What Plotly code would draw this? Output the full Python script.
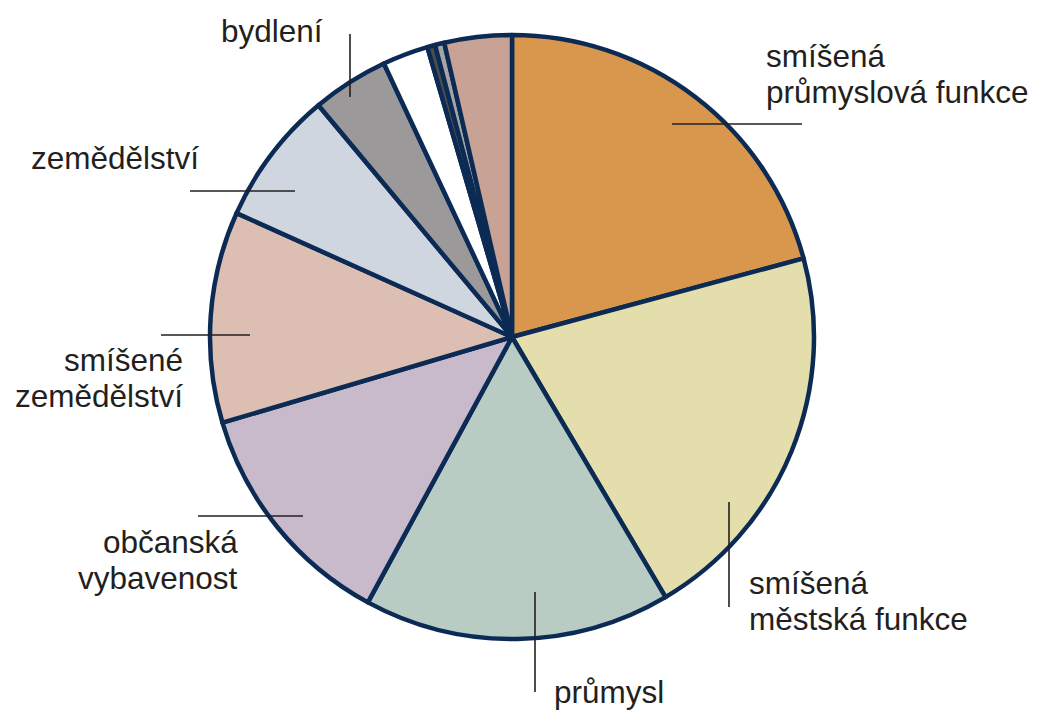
import plotly.graph_objects as go

# ---- data ----
categories = [
    "smíšená průmyslová funkce",
    "smíšená městská funkce",
    "průmysl",
    "občanská vybavenost",
    "smíšené zemědělství",
    "zemědělství",
    "bydlení",
    "ostatní 1",
    "ostatní 2",
    "ostatní 3",
    "ostatní 4",
]
values = [20.8, 20.7, 16.4, 12.5, 11.3, 7.2, 4.1, 2.45, 0.42, 0.5, 3.6]
colors = ["#D9974E", "#E3DEAC", "#B8CCC3", "#C8BACB", "#DCBFB2", "#D0D6DF",
          "#9B999A", "#FFFFFF", "#4D4B4B", "#A5A4A6", "#C8A294"]

# label texts (line by line)
label_lines = [
    ["smíšená", "průmyslová funkce"],
    ["smíšená", "městská funkce"],
    ["průmysl"],
    ["občanská", "vybavenost"],
    ["smíšené", "zemědělství"],
    ["zemědělství"],
    ["bydlení"],
]

# page is offset by the default 8px body margin
OFF = 8
PW, PH = 1037, 714
W, H = PW - OFF, PH - OFF
cx, cy, r = 512, 337, 302

fig = go.Figure()
fig.add_trace(go.Pie(
    labels=categories, values=values, sort=False, direction="clockwise",
    rotation=0, textinfo="none", hoverinfo="label+percent",
    marker=dict(colors=colors, line=dict(color="#0B2B55", width=4.5)),
    domain=dict(x=[(cx - r - OFF) / W, (cx + r - OFF) / W],
                y=[1 - (cy + r - OFF) / H, 1 - (cy - r - OFF) / H]),
    showlegend=False,
))

# label layout: (x, first baseline, anchor)
label_pos = [
    (767, 67, "left"),
    (750, 594, "left"),
    (555, 703, "left"),
    (237, 553, "right"),
    (182, 371, "right"),
    (32, 169, "left"),
    (222, 42, "left"),
]
line_gap = 36
fs = 31.5
pad = 3
txt_color = "#231F20"
annotations = []
for lines, (x, yb, anc) in zip(label_lines, label_pos):
    xx = x - pad if anc == "left" else x + pad
    for i, t in enumerate(lines):
        annotations.append(dict(
            x=xx, y=yb + i * line_gap - 0.34 * fs, xref="x", yref="y",
            text=t, showarrow=False, xanchor=anc, yanchor="middle",
            font=dict(family="Liberation Sans, Arial, sans-serif", size=fs, color=txt_color),
        ))

leaders = [
    (672, 124, 802, 124),
    (729, 502, 729, 607),
    (535, 592, 535, 692),
    (198, 516, 303, 516),
    (161, 335, 250, 335),
    (190, 191, 295, 191),
    (350, 34, 350, 97),
]
shapes = [dict(type="line", x0=a, y0=b, x1=c, y1=d, xref="x", yref="y",
               line=dict(color=txt_color, width=1.6)) for a, b, c, d in leaders]

fig.update_layout(
    width=W, height=H, margin=dict(l=0, r=0, t=0, b=0),
    paper_bgcolor="white", plot_bgcolor="rgba(0,0,0,0)",
    xaxis=dict(range=[OFF, PW], visible=False, fixedrange=True),
    yaxis=dict(range=[PH, OFF], visible=False, fixedrange=True),
    annotations=annotations, shapes=shapes,
)
fig.write_html("out.html")
